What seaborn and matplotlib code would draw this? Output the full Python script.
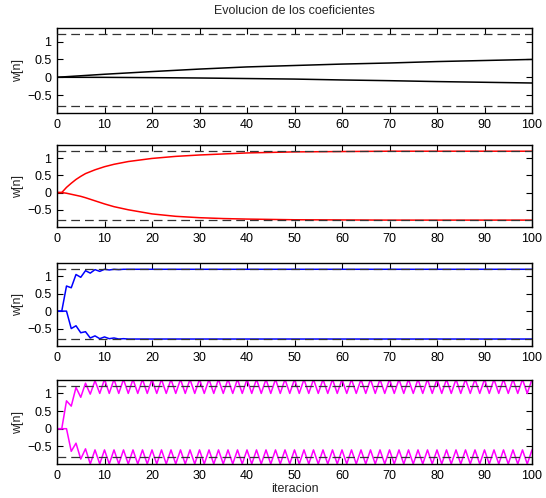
import matplotlib
matplotlib.use("Agg")
import matplotlib.pyplot as plt
import seaborn as sns
import pandas as pd

# ---------------- data ----------------
title = "Evolucion de los coeficientes"
xlabel = "iteracion"
ylabel = "w[n]"
xticks = [0, 10, 20, 30, 40, 50, 60, 70, 80, 90, 100]
yticks = [-0.5, 0, 0.5, 1]
ytick_labels = ["\u22120.5", "0", "0.5", "1"]
ref_levels = [1.2, -0.8]

# panel 1 (black, very slow)
n1 = [0, 10, 20, 30, 40, 50, 60, 70, 80, 90, 100]
w1_a = [0, 0.085, 0.16, 0.23, 0.29, 0.33, 0.37, 0.40, 0.44, 0.47, 0.50]
w1_b = [0, -0.002, -0.01, -0.02, -0.035, -0.05, -0.075, -0.095, -0.12, -0.14, -0.16]

# panel 2 (red, medium)
n2 = [0, 1, 2, 3, 4, 5, 6, 8, 10, 12, 15, 20, 25, 30, 35, 40, 50, 60, 70, 80, 90, 100]
w2_a = [0, 0, 0.15, 0.27, 0.38, 0.47, 0.55, 0.66, 0.75, 0.82, 0.90, 0.99, 1.05, 1.09,
        1.12, 1.15, 1.18, 1.19, 1.2, 1.2, 1.2, 1.2]
w2_b = [0, 0, -0.02, -0.05, -0.08, -0.11, -0.15, -0.24, -0.33, -0.41, -0.50, -0.62,
        -0.69, -0.73, -0.755, -0.77, -0.79, -0.795, -0.8, -0.8, -0.8, -0.8]

# panel 3 (blue, fast)
n3 = [0, 1, 2, 3, 4, 5, 6, 7, 8, 9, 10, 11, 12, 13, 14, 15, 20, 30, 40, 50, 60, 70, 80, 90, 100]
w3_a = [0, 0, 0.72, 0.67, 1.05, 0.97, 1.16, 1.09, 1.19, 1.14, 1.2, 1.18, 1.2, 1.19, 1.2,
        1.2, 1.2, 1.2, 1.2, 1.2, 1.2, 1.2, 1.2, 1.2, 1.2]
w3_b = [0, 0, 0, -0.5, -0.42, -0.62, -0.59, -0.77, -0.71, -0.79, -0.74, -0.79, -0.77,
        -0.8, -0.79, -0.8, -0.8, -0.8, -0.8, -0.8, -0.8, -0.8, -0.8, -0.8, -0.8]

# panel 4 (magenta, oscillating), one value per iteration 0..100
w4_a = [0, 0, 0.79, 0.64, 1.17, 0.89, 1.29, 0.98, 1.36, 1.0,
        1.4, 1.0, 1.4, 1.0, 1.4, 1.0, 1.4, 1.0, 1.4, 1.0,
        1.4, 1.0, 1.4, 1.0, 1.4, 1.0, 1.4, 1.0, 1.4, 1.0,
        1.4, 1.0, 1.4, 1.0, 1.4, 1.0, 1.4, 1.0, 1.4, 1.0,
        1.4, 1.0, 1.4, 1.0, 1.4, 1.0, 1.4, 1.0, 1.4, 1.0,
        1.4, 1.0, 1.4, 1.0, 1.4, 1.0, 1.4, 1.0, 1.4, 1.0,
        1.4, 1.0, 1.4, 1.0, 1.4, 1.0, 1.4, 1.0, 1.4, 1.0,
        1.4, 1.0, 1.4, 1.0, 1.4, 1.0, 1.4, 1.0, 1.4, 1.0,
        1.4, 1.0, 1.4, 1.0, 1.4, 1.0, 1.4, 1.0, 1.4, 1.0,
        1.4, 1.0, 1.4, 1.0, 1.4, 1.0, 1.4, 1.0, 1.4, 1.0,
        1.4]
w4_b = [0, 0, 0, -0.64, -0.41, -0.86, -0.57, -1.0, -0.6, -1.0,
        -0.6, -1.0, -0.6, -1.0, -0.6, -1.0, -0.6, -1.0, -0.6, -1.0,
        -0.6, -1.0, -0.6, -1.0, -0.6, -1.0, -0.6, -1.0, -0.6, -1.0,
        -0.6, -1.0, -0.6, -1.0, -0.6, -1.0, -0.6, -1.0, -0.6, -1.0,
        -0.6, -1.0, -0.6, -1.0, -0.6, -1.0, -0.6, -1.0, -0.6, -1.0,
        -0.6, -1.0, -0.6, -1.0, -0.6, -1.0, -0.6, -1.0, -0.6, -1.0,
        -0.6, -1.0, -0.6, -1.0, -0.6, -1.0, -0.6, -1.0, -0.6, -1.0,
        -0.6, -1.0, -0.6, -1.0, -0.6, -1.0, -0.6, -1.0, -0.6, -1.0,
        -0.6, -1.0, -0.6, -1.0, -0.6, -1.0, -0.6, -1.0, -0.6, -1.0,
        -0.6, -1.0, -0.6, -1.0, -0.6, -1.0, -0.6, -1.0, -0.6, -1.0,
        -0.6]
n4 = list(range(len(w4_a)))

colors = ["#000000", "#ff0000", "#0000ff", "#ff00ff"]

# ---------------- styling ----------------
sns.set_style("ticks")
plt.rcParams["font.family"] = ["Liberation Sans", "DejaVu Sans"]
plt.rcParams["axes.unicode_minus"] = True

W, H = 546, 498
fig = plt.figure(figsize=(W / 100, H / 100), dpi=100)

# axes boxes in pixel coordinates: (top, bottom)
boxes = [(28, 113), (145, 227), (263, 346), (380, 464)]
left_px, right_px = 57, 532

panels = [
    (n1, w1_a, w1_b),
    (n2, w2_a, w2_b),
    (n3, w3_a, w3_b),
    (n4, w4_a, w4_b),
]

axes = []
for i, ((top, bot), (nn, a, b)) in enumerate(zip(boxes, panels)):
    ax = fig.add_axes([left_px / W, 1 - bot / H, (right_px - left_px) / W, (bot - top) / H])
    df = pd.DataFrame({"n": nn + nn,
                       "w": a + b,
                       "coef": ["w0"] * len(nn) + ["w1"] * len(nn)})
    for coef, sub in df.groupby("coef"):
        sns.lineplot(data=sub, x="n", y="w", ax=ax, color=colors[i],
                     linewidth=1.1, estimator=None, sort=False)
    for lev in ref_levels:
        ax.axhline(lev, color="#333333", linestyle=(0, (7, 4)), linewidth=0.9, zorder=5)
    ax.set_xlim(0, 100)
    ax.set_ylim(-1.0, 1.38)
    ax.set_xticks(xticks)
    ax.set_xticklabels([str(t) for t in xticks])
    ax.set_yticks(yticks)
    ax.set_yticklabels(ytick_labels)
    ax.tick_params(direction="in", top=True, right=True, length=4, width=0.8,
                   labelsize=9, pad=4, colors="black")
    for sp in ax.spines.values():
        sp.set_linewidth(1.0)
        sp.set_color("black")
        sp.set_visible(True)
    ax.set_ylabel(ylabel, fontsize=9, labelpad=2)
    ax.set_xlabel("")
    axes.append(ax)

axes[0].set_title(title, fontsize=9, pad=10)
axes[-1].set_xlabel(xlabel, fontsize=9, labelpad=1)

fig.savefig("out.png", dpi=100)
